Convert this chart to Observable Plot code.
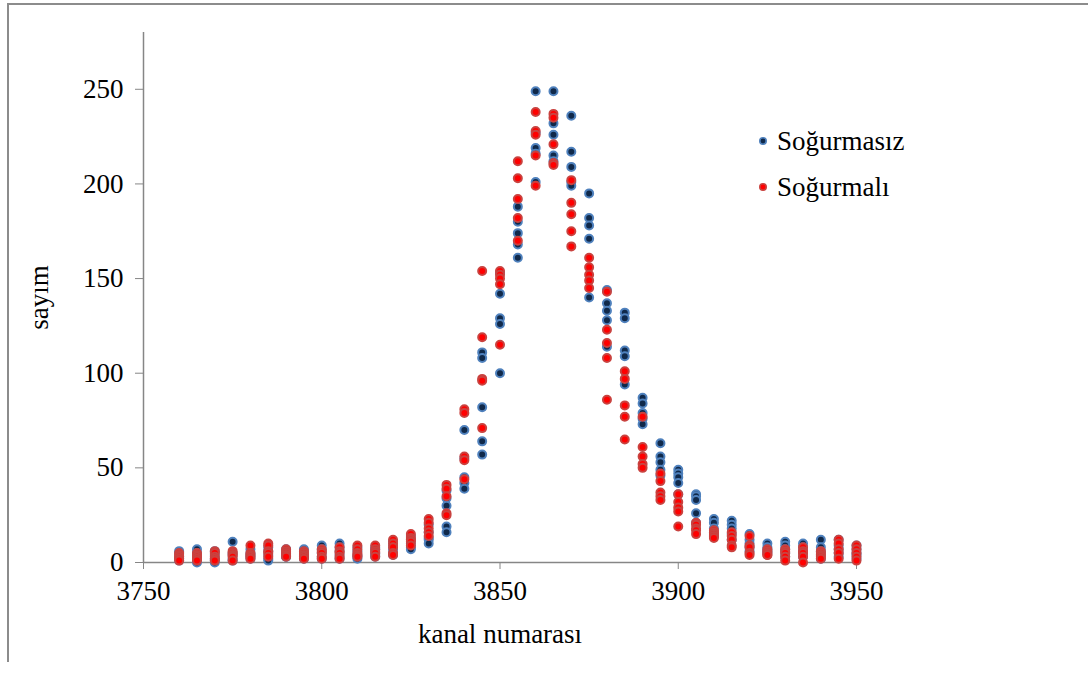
<!DOCTYPE html>
<html>
<head>
<meta charset="utf-8">
<script src="https://cdn.jsdelivr.net/npm/d3@7"></script>
<script src="https://cdn.jsdelivr.net/npm/@observablehq/plot@0.6"></script>
<style>
  body { margin: 0; background: #fff; font-family: "Liberation Serif", "Times New Roman", serif; }
  #wrap { position: relative; width: 1088px; height: 674px; overflow: hidden; }
  #border { position: absolute; left: 7px; top: 3px; width: 1100px; height: 657px;
            border-top: 2px solid #8c8c8c; border-left: 2px solid #8c8c8c; }
  #chart { position: absolute; left: 0; top: 0; }
  #legend { position: absolute; left: 757px; top: 118px; font-size: 27px; color: #000;
            font-family: "Liberation Serif", "Times New Roman", serif; }
  .item { display: flex; align-items: center; height: 46px; }
  .item svg { margin-right: 8px; }
</style>
</head>
<body>
<div id="wrap">
  <div id="border"></div>
  <div id="chart"></div>
  <div id="legend"></div>
</div>
<script>
// kanal numaraları (x)
const channels = [3760,3765,3770,3775,3780,3785,3790,3795,3800,3805,3810,3815,3820,3825,3830,3835,3840,3845,3850,3855,3860,3865,3870,3875,3880,3885,3890,3895,3900,3905,3910,3915,3920,3925,3930,3935,3940,3945,3950];

// Soğurmasız sayımlar (her kanal için okunan değerler)
const sogurmasiz = [
  [6,5,3,2,1],[7,5,3,1,0],[6,4,2,1,0],[11,5,4,2,1],[7,5,4,3,2],[8,6,4,2,1],
  [7,5,4,3,3],[7,6,4,3,2],[9,7,5,3,2],[10,8,6,4,2],[8,6,4,3,2],[8,7,5,4,3],
  [11,9,7,5,4],[14,12,10,8,7],[20,16,13,12,10],[38,34,30,19,16],[70,55,45,42,39],
  [111,108,82,64,57],[153,142,129,126,100],[188,180,174,168,161],[249,227,219,216,201],
  [249,232,226,215,212],[236,217,209,201,199],[195,182,178,171,140],[144,137,133,128,114],
  [132,129,112,109,94],[87,84,79,76,73],[63,56,53,49,46],[49,47,45,42,36],
  [36,35,33,26,21],[23,21,18,16,14],[22,20,18,15,12],[15,12,10,8,6],[10,8,7,6,5],
  [11,9,7,5,3],[10,8,6,5,3],[12,8,6,4,2],[12,9,7,5,3],[9,7,5,4,2]
];

// Soğurmalı sayımlar
const sogurmali = [
  [5,4,3,2,1],[5,4,3,2,1],[6,5,3,2,1],[6,5,4,3,1],[9,5,4,3,2],[10,9,6,5,3],
  [7,6,5,4,3],[6,5,4,3,2],[7,6,5,3,2],[8,6,5,3,2],[9,7,5,4,3],[9,7,6,5,3],
  [12,10,8,5,4],[15,13,12,11,9],[23,21,18,16,14],[41,39,35,26,25],[81,79,56,54,44],
  [154,119,97,96,71],[154,152,150,147,115],[212,203,192,182,170],[238,228,226,215,199],
  [237,235,221,211,210],[202,190,184,175,167],[161,156,152,149,145],[143,123,116,108,86],
  [101,97,83,77,65],[77,61,56,52,50],[47,43,37,35,33],[36,32,29,27,19],
  [21,20,18,17,15],[17,16,15,14,13],[16,14,12,9,8],[14,9,8,5,4],[7,6,5,4,4],
  [7,6,5,3,1],[8,6,5,3,0],[6,5,4,3,2],[12,10,7,5,2],[9,7,5,3,1]
];

const yTicks = [0, 50, 100, 150, 200, 250];
const xTicks = [3750, 3800, 3850, 3900, 3950];
const seriesNames = ["Soğurmasız", "Soğurmalı"];

const toRows = (vals) => channels.flatMap((c, i) => vals[i].map(v => ({kanal: c, sayim: v})));
const blueRows = toRows(sogurmasiz);
const redRows = toRows(sogurmali);

const blue = {fill: "#10294a", stroke: "#4f81bd"};
const red = {fill: "#ff0000", stroke: "#c9423f"};

const axisGray = "#868686";

const plot = Plot.plot({
  width: 1088,
  height: 674,
  marginLeft: 143,
  marginRight: 232,
  marginTop: 32,
  marginBottom: 112,
  style: {fontFamily: "'Liberation Serif', 'Times New Roman', serif", fontSize: "27px", color: "#000", background: "transparent", overflow: "visible"},
  x: {domain: [3750, 3950]},
  y: {domain: [0, 280]},
  marks: [
    Plot.axisY({ticks: yTicks, tickSize: 8, tickPadding: 12, stroke: axisGray, fill: "#000",
                tickFormat: d => String(d), label: "sayım", labelAnchor: "center", labelArrow: "none", labelOffset: 115}),
    Plot.axisX({ticks: xTicks, tickSize: 7, tickPadding: 11, stroke: axisGray, fill: "#000",
                tickFormat: d => String(d), label: "kanal numarası", labelAnchor: "center", labelArrow: "none", labelOffset: 80}),
    Plot.ruleX([3750], {stroke: axisGray, strokeWidth: 1.5}),
    Plot.ruleY([0], {stroke: axisGray, strokeWidth: 1.5}),
    Plot.dot(blueRows, {x: "kanal", y: "sayim", r: 4, fill: blue.fill, stroke: blue.stroke, strokeWidth: 2}),
    Plot.dot(redRows, {x: "kanal", y: "sayim", r: 4, fill: red.fill, stroke: red.stroke, strokeWidth: 2})
  ]
});
document.getElementById("chart").appendChild(plot);

// legend
const legend = document.getElementById("legend");
[[seriesNames[0], blue], [seriesNames[1], red]].forEach(([name, c]) => {
  const item = document.createElement("div");
  item.className = "item";
  item.innerHTML = `<svg width="12" height="12"><circle cx="6" cy="6" r="3.2" fill="${c.fill}" stroke="${c.stroke}" stroke-width="1.6"></circle></svg><span>${name}</span>`;
  legend.appendChild(item);
});
</script>
</body>
</html>
